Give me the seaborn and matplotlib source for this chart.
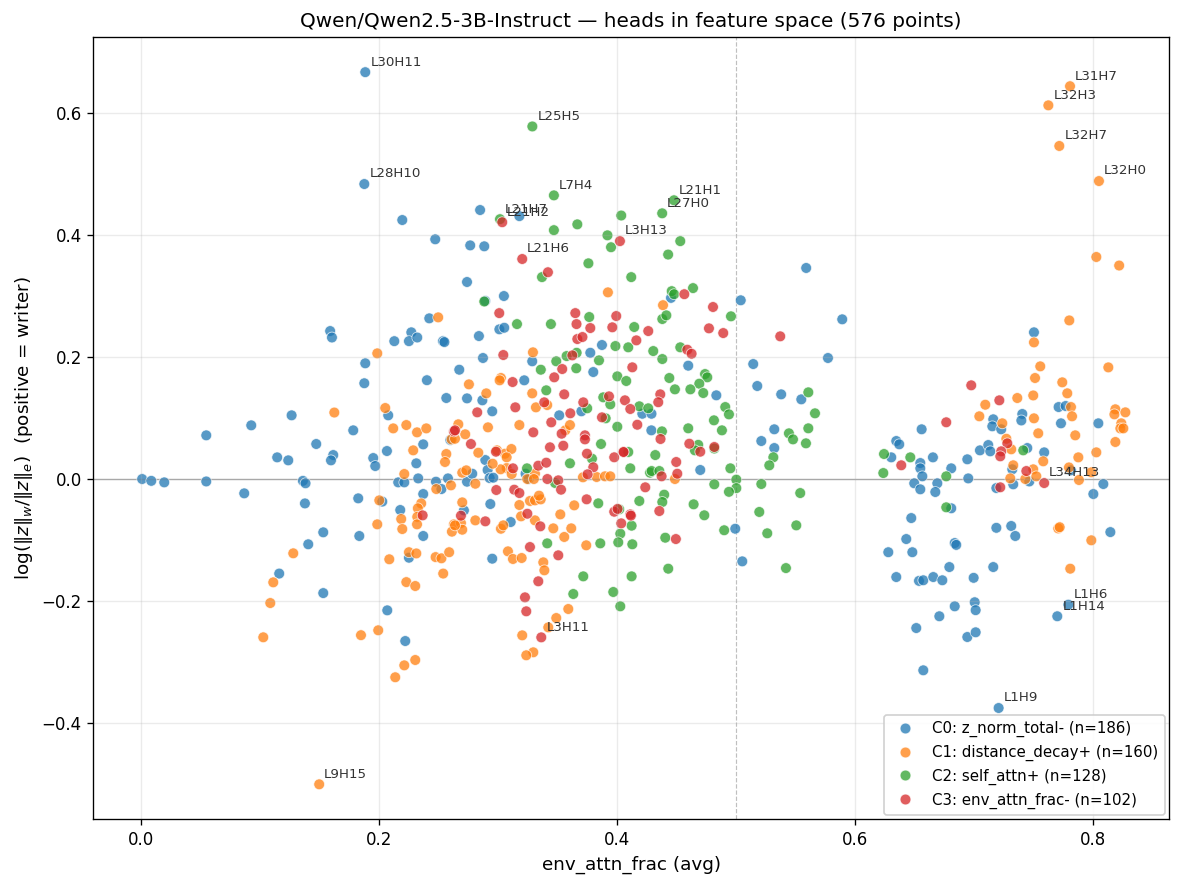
import matplotlib
matplotlib.use("Agg")
import matplotlib.pyplot as plt
import seaborn as sns
import numpy as np
import pandas as pd

# cluster names and sizes as shown in the legend
CLUSTERS = ["C0: z_norm_total-", "C1: distance_decay+", "C2: self_attn+", "C3: env_attn_frac-"]
CLUSTER_N = [186, 160, 128, 102]
N_TOTAL = 576

# (env_attn_frac, log ratio) per cluster
c0_x = [0.1885, 0.1877, 0.2196, 0.2473, 0.285, 0.318, 0.2767, 0.2885, 0.274, 0.305, 0.2893, 0.4454, 0.504, 0.559,
        0.2423, 0.159, 0.1605, 0.2129, 0.2272, 0.2252, 0.2322, 0.2538, 0.255, 0.1885, 0.1877, 0.2403, 0.2566, 0.1266,
        0.0927, 0.0549, 0.2078, 0.26, 0.1784, 0.1473, 0.1616, 0.1597, 0.1145, 0.1238, 0.1952, 0.1969, 0.2067, 0.2372,
        0.2314, 0.001, 0.0087, 0.0196, 0.0549, 0.0868, 0.1361, 0.1383, 0.1378, 0.2162, 0.2213, 0.233, 0.2479, 0.258,
        0.2525, 0.1826, 0.2028, 0.2372, 0.2179, 0.2372, 0.1532, 0.1835, 0.1406, 0.2252, 0.1162, 0.1532, 0.207, 0.2221,
        0.6347, 0.6538, 0.6574, 0.6658, 0.6734, 0.6997, 0.6838, 0.7006, 0.7014, 0.6709, 0.6515, 0.6944, 0.7014, 0.6574,
        0.7207, 0.7793, 0.770,
        0.5893, 0.5773, 0.7504, 0.7711, 0.777, 0.7406, 0.7398, 0.7162, 0.7154, 0.7229, 0.7731, 0.8045, 0.656, 0.6347,
        0.6372, 0.6305, 0.6655, 0.6549, 0.6549, 0.6566, 0.6809, 0.6944, 0.6952, 0.6498, 0.6549, 0.6692, 0.6675, 0.705,
        0.712, 0.7137, 0.7448, 0.759, 0.7322, 0.733, 0.7465, 0.7815, 0.8087, 0.8003, 0.7188, 0.6809, 0.6473, 0.6431,
        0.628, 0.6482, 0.6838, 0.6851, 0.7188, 0.7313, 0.7347, 0.8146, 0.6793, 0.7162,
        0.3012, 0.3053, 0.284, 0.2874, 0.2675, 0.3288, 0.3776, 0.3801, 0.3874, 0.4599, 0.3221, 0.274, 0.2869, 0.2952,
        0.3701, 0.3515, 0.4213, 0.429, 0.4289, 0.4835, 0.5145, 0.5179, 0.538, 0.5549, 0.5322, 0.5322, 0.5213, 0.5053,
        0.4994, 0.47, 0.2952, 0.3107, 0.2714, 0.2936, 0.3232, 0.2894, 0.2913, 0.293, 0.2961, 0.274, 0.2784, 0.3258]
c0_y = [0.667, 0.4836, 0.4246, 0.393, 0.441, 0.431, 0.383, 0.3815, 0.323, 0.300, 0.292, 0.297, 0.293, 0.346,
        0.2634, 0.2426, 0.232, 0.226, 0.2405, 0.226, 0.232, 0.226, 0.2245, 0.1897, 0.157, 0.162, 0.1328, 0.1044,
        0.088, 0.0716, 0.1044, 0.064, 0.0798, 0.0574, 0.0393, 0.0306, 0.0355, 0.0306, 0.0344, 0.0213, 0.0459, 0.0568,
        0.0257, 0.0, -0.003, -0.0055, -0.004, -0.0235, -0.003, -0.007, -0.040, -0.0055, -0.0055, 0.001, -0.0044, 0.001,
        -0.0164, -0.0317, -0.037, -0.0246, -0.0508, -0.0934, -0.0874, -0.0934, -0.107, -0.129, -0.155, -0.187, -0.2153, -0.2656,
        -0.1607, -0.167, -0.166, -0.1607, -0.166, -0.162, -0.2087, -0.202, -0.215, -0.225, -0.2443, -0.259, -0.2513, -0.3136,
        -0.3754, -0.206, -0.225,
        0.2618, 0.1984, 0.2405, 0.118, 0.1197, 0.1066, 0.096, 0.0979, 0.0864, 0.0815, 0.0913, 0.0913, 0.0815, 0.0623,
        0.0569, 0.0355, 0.0355, 0.0262, 0.0175, 0.0044, 0.0175, 0.0323, 0.001, -0.007, -0.0169, -0.007, -0.0213, 0.047,
        0.0557, 0.0454, 0.0508, 0.0437, 0.0159, -0.0087, -0.004, 0.0142, -0.0082, -0.0246, -0.0148, -0.048, -0.064, -0.0984,
        -0.120, -0.120, -0.105, -0.108, -0.080, -0.077, -0.0934, -0.087, -0.1443, -0.1443,
        0.2454, 0.248, 0.2344, 0.1984, 0.1792, 0.193, 0.207, 0.1754, 0.2197, 0.1858, 0.1618, 0.1322, 0.129, 0.111,
        0.111, 0.1044, 0.107, 0.107, 0.0798, 0.1372, 0.1885, 0.1525, 0.1388, 0.1306, 0.0815, 0.0508, 0.0623, -0.135,
        -0.0815, 0.0148, -0.1306, -0.0705, -0.0514, -0.041, 0.0087, 0.0311, 0.0148, 0.0016, 0.0022, -0.0044, 0.0087, 0.0]

c1_x = [0.3924, 0.4387, 0.7807, 0.7625, 0.7717, 0.805, 0.8028, 0.822,
        0.2498, 0.1986, 0.1625, 0.2053, 0.212, 0.223, 0.232, 0.2398, 0.261, 0.2288, 0.2566, 0.2555, 0.2213, 0.2482,
        0.2605, 0.2003, 0.2355, 0.2327, 0.2322, 0.2187, 0.232, 0.2196, 0.1986, 0.263, 0.2613, 0.128, 0.2252, 0.2314,
        0.2087, 0.2476, 0.2525, 0.259, 0.254,
        0.1112, 0.1087, 0.1028, 0.1849, 0.1994, 0.2305, 0.2213, 0.2137, 0.1498, 0.223, 0.2305,
        0.7801, 0.7504, 0.8129, 0.7557, 0.7513, 0.7742, 0.7784, 0.7498, 0.7364, 0.7095, 0.7045, 0.7815, 0.7824, 0.7504,
        0.7238, 0.8188, 0.818, 0.8272, 0.8238, 0.823, 0.8255, 0.754, 0.7851, 0.8188, 0.8028, 0.7877, 0.7272, 0.7313,
        0.7582, 0.733, 0.7305, 0.7498, 0.7431, 0.7524, 0.7798, 0.7882, 0.7986, 0.7708, 0.772, 0.7986, 0.7809,
        0.3591, 0.349, 0.3423, 0.3204, 0.3297, 0.3238,
        0.3294, 0.3025, 0.3014, 0.2756, 0.2902, 0.3288, 0.3319, 0.3414, 0.3742, 0.3557, 0.3616, 0.3465, 0.3524, 0.3641,
        0.3194, 0.318, 0.3269, 0.3311, 0.3359, 0.3345, 0.3311, 0.3084, 0.3126, 0.3199, 0.3381, 0.339, 0.3025, 0.3045,
        0.281, 0.2689, 0.27, 0.2639, 0.27, 0.3311, 0.3246, 0.3302, 0.3073, 0.3022, 0.3115, 0.2992, 0.3059, 0.3113,
        0.3073, 0.2955, 0.2835, 0.281, 0.27, 0.2734, 0.2725, 0.2667, 0.2639, 0.2916, 0.318, 0.3566, 0.3605, 0.3714,
        0.3829, 0.3899, 0.3944, 0.4487]
c1_y = [0.306, 0.285, 0.644, 0.6126, 0.546, 0.4885, 0.364, 0.350,
        0.265, 0.206, 0.109, 0.1164, 0.083, 0.0885, 0.0765, 0.083, 0.065, 0.047, 0.041, 0.0279, 0.0082, -0.0164,
        -0.0104, -0.035, -0.040, -0.048, -0.062, -0.0656, -0.0743, -0.082, -0.0743, -0.0743, -0.0863, -0.1218, -0.120, -0.122,
        -0.1316, -0.128, -0.130, -0.120, -0.155,
        -0.1694, -0.2033, -0.2595, -0.256, -0.248, -0.2967, -0.3055, -0.325, -0.5005, -0.169, -0.1754,
        0.260, 0.224, 0.183, 0.1847, 0.1656, 0.1585, 0.1405, 0.137, 0.1328, 0.1218, 0.1028, 0.118, 0.1028, 0.0995,
        0.0913, 0.1143, 0.106, 0.1093, 0.0913, 0.083, 0.083, 0.0749, 0.0716, 0.0607, 0.0437, 0.0355, 0.066, 0.0487,
        0.029, 0.0225, 0.001, 0.0159, 0.0, 0.0044, 0.019, -0.0016, 0.011, -0.081, -0.079, -0.1005, -0.147,
        -0.2131, -0.2279, -0.2432, -0.2563, -0.2841, -0.289,
        0.2077, 0.1656, 0.1618, 0.1552, 0.1404, 0.1404, 0.1175, 0.1213, -0.1087, -0.095, -0.0809, -0.0809, -0.058, -0.0432,
        -0.0612, -0.0426, -0.036, -0.035, -0.0334, -0.0273, -0.0678, -0.1186, -0.1311, -0.1295, -0.1366, -0.1497, -0.0815, -0.076,
        -0.0678, -0.0721, -0.0831, -0.076, -0.0383, 0.0087, 0.0, 0.0, 0.018, 0.0159, 0.0082, 0.047, 0.0415, 0.0492,
        0.0356, 0.0251, 0.0431, -0.0077, 0.0104, 0.0142, 0.0733, 0.0897, 0.066, 0.0847, 0.0885, 0.0798, 0.0885, 0.0028,
        0.0033, 0.0044, 0.0044, 0.0]

c2_x = [0.3289, 0.347, 0.3017, 0.347, 0.3667, 0.392, 0.395, 0.4036, 0.438, 0.4479, 0.4532, 0.443, 0.337, 0.376,
        0.412, 0.2885, 0.446, 0.448, 0.4639,
        0.5664, 0.6244, 0.6465, 0.6238, 0.6767, 0.7414, 0.6767, 0.3633, 0.3969, 0.4028,
        0.316, 0.3445, 0.3767, 0.4145, 0.4381, 0.4415, 0.4958, 0.3987, 0.4095, 0.4305, 0.4532, 0.4381, 0.349, 0.3577,
        0.3661, 0.3658, 0.3849, 0.336, 0.4003, 0.4078, 0.444, 0.474, 0.4759, 0.4692, 0.3406, 0.375, 0.3885, 0.3944,
        0.4188, 0.4263, 0.3905, 0.4003, 0.4378, 0.4599, 0.4725, 0.4617, 0.4487, 0.491, 0.4941, 0.4815, 0.4882, 0.5608,
        0.5608, 0.5445, 0.5479, 0.5588, 0.5314, 0.528, 0.5213, 0.554, 0.5196, 0.5507, 0.5263, 0.542, 0.4901, 0.5003,
        0.5003, 0.4941, 0.4818, 0.4953, 0.4818, 0.4683, 0.4655, 0.4322, 0.4278, 0.4291, 0.4356, 0.4397, 0.4381, 0.4188,
        0.4644, 0.4734, 0.4406, 0.4431, 0.4112, 0.4095, 0.379, 0.3866, 0.3843, 0.4019, 0.4123, 0.4028, 0.4011, 0.4129,
        0.386, 0.3717, 0.4123, 0.3414, 0.3244, 0.348, 0.3605]
c2_y = [0.578, 0.465, 0.426, 0.408, 0.4175, 0.3995, 0.380, 0.432, 0.4356, 0.457, 0.390, 0.368, 0.331, 0.3536,
        0.331, 0.291, 0.308, 0.303, 0.313,
        0.1077, 0.041, 0.0355, 0.0098, 0.0044, 0.047, -0.0464, -0.1885, -0.1852, -0.2087,
        0.254, 0.254, 0.2656, 0.2492, 0.2623, 0.2683, 0.2667, 0.218, 0.2159, 0.2098, 0.2159, 0.1967, 0.193, 0.2016,
        0.207, 0.1815, 0.1945, 0.1792, 0.1683, 0.1607, 0.1656, 0.1721, 0.1667, 0.1563, 0.1454, 0.1159, 0.1339, 0.1224,
        0.1192, 0.1159, 0.0995, 0.0857, 0.0781, 0.0831, 0.141, 0.147, 0.147, 0.118, 0.106, 0.0962, 0.0798, 0.1421,
        0.0831, 0.0749, 0.065, 0.0585, 0.0356, 0.0224, -0.0082, -0.023, -0.054, -0.076, -0.089, -0.146, -0.084, -0.001,
        -0.015, -0.021, -0.0087, 0.0175, 0.050, 0.056, 0.047, 0.0393, 0.0104, 0.0131, 0.0131, -0.0257, -0.0377, -0.036,
        -0.0415, -0.0595, -0.0962, -0.147, 0.0175, 0.0443, 0.0333, 0.0574, -0.0399, -0.0497, -0.0765, -0.0896, -0.1038, -0.107,
        -0.1055, -0.1596, -0.1596, -0.1055, 0.0175, -0.0065, 0.0257]

c3_x = [0.3036, 0.4025, 0.3204, 0.342, 0.4566, 0.4807, 0.263, 0.2367,
        0.6977, 0.7213, 0.6767, 0.6389, 0.728, 0.7229, 0.7221, 0.744, 0.759, 0.7221,
        0.3339, 0.3227, 0.3238, 0.3364,
        0.3011, 0.365, 0.366, 0.3776, 0.3667, 0.371, 0.3994, 0.3961, 0.4263, 0.4163, 0.4773, 0.4893, 0.5372, 0.4591,
        0.4627, 0.3045, 0.3625, 0.354, 0.4129, 0.3123, 0.3473, 0.2826, 0.3146, 0.3389, 0.3557, 0.3717, 0.3608, 0.3448,
        0.3933, 0.4067, 0.4112, 0.4364, 0.4347, 0.3874, 0.4171, 0.4608, 0.47, 0.4818, 0.4498, 0.4507, 0.4366, 0.4375,
        0.4238, 0.4356, 0.4495, 0.4053, 0.3977, 0.3801, 0.3753, 0.3748, 0.3731, 0.3731, 0.3745, 0.3977, 0.4005, 0.4112,
        0.4117, 0.4036, 0.3507, 0.3356, 0.3247, 0.3269, 0.2894, 0.2689, 0.2986, 0.3137, 0.318, 0.3415, 0.3507, 0.353,
        0.3339, 0.3406, 0.3126, 0.2983, 0.2773, 0.2639, 0.3297, 0.3535, 0.3549, 0.3437, 0.4056]
c3_y = [0.421, 0.390, 0.3607, 0.339, 0.303, 0.282, 0.078, -0.0596,
        0.1536, 0.129, 0.093, 0.0225, 0.0585, 0.0454, 0.0372, 0.0131, -0.0066, -0.0136,
        -0.1677, -0.194, -0.2169, -0.2596,
        0.272, 0.272, 0.254, 0.2475, 0.2295, 0.2328, 0.2672, 0.2487, 0.2426, 0.2273, 0.247, 0.2393, 0.2339, 0.212,
        0.2054, 0.2033, 0.2027, 0.1803, 0.1831, 0.159, 0.1667, 0.1093, 0.1175, 0.1257, 0.1388, 0.1257, 0.1077, 0.0929,
        0.1355, 0.129, 0.1148, 0.1388, 0.1259, 0.1011, 0.089, 0.0579, 0.0448, 0.0525, 0.0279, 0.0087, 0.0656, 0.0044,
        -0.0136, -0.0525, -0.0984, 0.0443, 0.0356, 0.0192, 0.0077, 0.0415, 0.0716, 0.065, -0.0333, -0.0536, -0.049, -0.058,
        -0.060, -0.0727, -0.1251, -0.0776, -0.0569, -0.1115, -0.0694, -0.0601, -0.018, -0.0175, -0.023, 0.0, -0.0022, -0.0175,
        0.0219, 0.0268, 0.0175, 0.0448, 0.0574, 0.0798, 0.0765, 0.0743, 0.0546, 0.052, 0.0443]

# labelled heads (label, x, y)
head_names = ["L30H11", "L28H10", "L25H5", "L7H4", "L21H7", "L21H2", "L21H1", "L27H0", "L3H13", "L21H6",
              "L31H7", "L32H3", "L32H7", "L32H0", "L34H13", "L1H6", "L1H14", "L1H9", "L9H15", "L3H11"]
head_x = [0.1885, 0.1877, 0.3289, 0.347, 0.3017, 0.3036, 0.4479, 0.438, 0.4025, 0.3204,
          0.7807, 0.7625, 0.7717, 0.805, 0.759, 0.7793, 0.770, 0.7207, 0.1498, 0.3364]
head_y = [0.667, 0.4836, 0.578, 0.465, 0.426, 0.421, 0.457, 0.4356, 0.390, 0.3607,
          0.644, 0.6126, 0.546, 0.4885, -0.0066, -0.206, -0.225, -0.3754, -0.5005, -0.2596]

xs = [c0_x, c1_x, c2_x, c3_x]
ys = [c0_y, c1_y, c2_y, c3_y]
labels = [f"{c} (n={n})" for c, n in zip(CLUSTERS, CLUSTER_N)]
df = pd.concat([pd.DataFrame({"env_attn_frac": x, "log_ratio": y, "cluster": lab})
                for x, y, lab in zip(xs, ys, labels)], ignore_index=True)

##################################################################################
# plot
##################################################################################
DPI = 120
fig, ax = plt.subplots(figsize=(1186 / DPI, 886 / DPI), dpi=DPI)
fig.subplots_adjust(left=0.0788, right=0.9857, top=0.9582, bottom=0.0756)

sns.scatterplot(data=df, x="env_attn_frac", y="log_ratio", hue="cluster", hue_order=labels,
                palette=sns.color_palette("tab10", 4), s=42, alpha=0.75, edgecolor="white",
                linewidth=0.5, ax=ax)

ax.axhline(0, color="gray", lw=0.8, alpha=0.7, zorder=0)
ax.axvline(0.5, color="gray", lw=0.7, ls="--", alpha=0.5, zorder=0)
ax.grid(True, alpha=0.25)

for name, x, y in zip(head_names, head_x, head_y):
    ax.annotate(name, (x, y), xytext=(3, 4), textcoords="offset points",
                fontsize=8, color="#333333")

ax.set_xlim(-0.0399, 0.8639)
ax.set_ylim(-0.5574, 0.7246)
ax.set_xticks([0.0, 0.2, 0.4, 0.6, 0.8])
ax.set_xlabel("env_attn_frac (avg)", fontsize=11)
ax.set_ylabel(r"$\log(\|z\|_w / \|z\|_e)$  (positive = writer)", fontsize=11)
ax.set_title(f"Qwen/Qwen2.5-3B-Instruct \u2014 heads in feature space ({N_TOTAL} points)", fontsize=12)
ax.legend(loc="lower right", fontsize=9, framealpha=0.9, borderaxespad=0.3)

plt.savefig("out.png", dpi=DPI)
